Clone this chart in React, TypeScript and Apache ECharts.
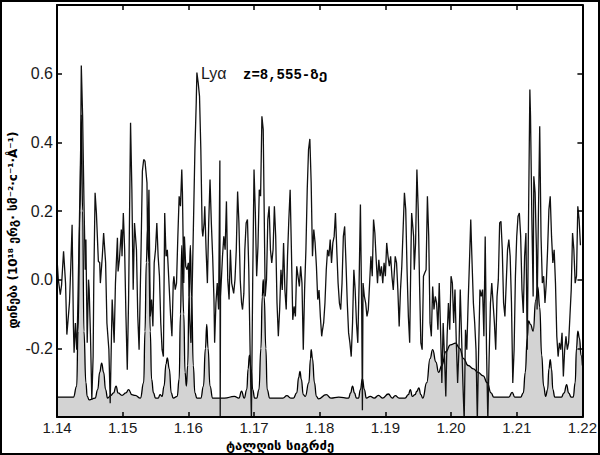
import { useEffect, useRef } from "react";
import * as echarts from "echarts";

// Observed spectrum (wavelength µm, flux)
const obsWave = [
  1.1400,1.1402,1.1405,1.1407,1.1410,1.1413,1.1415,1.1419,1.1421,1.1423,
  1.1425,1.1426,1.1428,1.1430,1.1431,1.1434,1.1436,1.1437,1.1439,1.1441,
  1.1443,1.1444,1.1446,1.1448,1.1449,1.1451,1.1453,1.1455,1.1456,1.1458,
  1.1460,1.1461,1.1463,1.1465,1.1466,1.1469,1.1471,1.1474,1.1476,1.1479,
  1.1481,1.1484,1.1485,1.1487,1.1489,1.1492,1.1493,1.1495,1.1498,1.1499,
  1.1501,1.1503,1.1505,1.1507,1.1509,1.1511,1.1512,1.1514,1.1516,1.1518,
  1.1521,1.1523,1.1525,1.1528,1.1530,1.1532,1.1534,1.1537,1.1538,1.1540,
  1.1542,1.1544,1.1546,1.1548,1.1550,1.1552,1.1554,1.1556,1.1558,1.1560,
  1.1562,1.1564,1.1566,1.1568,1.1570,1.1573,1.1575,1.1577,1.1578,1.1580,
  1.1582,1.1584,1.1586,1.1588,1.1590,1.1591,1.1593,1.1594,1.1596,1.1598,
  1.1600,1.1602,1.1604,1.1606,1.1608,1.1610,1.1612,1.1613,1.1615,1.1617,
  1.1619,1.1621,1.1622,1.1624,1.1625,1.1627,1.1629,1.1631,1.1633,1.1635,
  1.1637,1.1639,1.1640,1.1642,1.1644,1.1646,1.1648,1.16485,1.1649,1.1652,
  1.1654,1.1656,1.1658,1.1660,1.1662,1.1664,1.1666,1.1667,1.1669,1.1671,
  1.1673,1.1675,1.1677,1.1679,1.1681,1.16825,1.16845,1.1686,1.1688,1.1690,
  1.1692,1.1694,1.1696,1.1698,1.1700,1.1702,1.1704,1.1706,1.1708,1.1710,
  1.1712,1.1714,1.17155,1.1717,1.1719,1.1721,1.1723,1.1725,1.1727,1.1729,
  1.1731,1.1733,1.1735,1.1737,1.1739,1.1741,1.1743,1.1745,1.1747,1.1749,
  1.1751,1.1753,1.1755,1.1757,1.1759,1.1761,1.1763,1.1765,1.1767,1.1769,
  1.1771,1.1773,1.1775,1.1777,1.1779,1.1781,1.1783,1.1785,1.1787,1.1789,
  1.1791,1.1793,1.1795,1.1797,1.1799,1.1801,1.1803,1.1804,1.1806,1.1808,
  1.1810,1.1812,1.1814,1.1816,1.1818,1.1820,1.1822,1.1824,1.1826,1.1828,
  1.1830,1.1832,1.1834,1.1836,1.1838,1.1840,1.1842,1.1844,1.1846,1.1848,
  1.1850,1.1852,1.1854,1.1856,1.1858,1.1860,1.1862,1.1864,1.1865,1.1866,
  1.1868,1.1870,1.1872,1.1874,1.1876,1.1878,1.1880,1.1882,1.1884,1.1886,
  1.1888,1.1890,1.1892,1.1894,1.1896,1.1898,1.1900,1.1902,1.1904,1.1906,
  1.1908,1.1910,1.1912,1.1915,1.1917,1.1919,1.1921,1.1923,1.1925,1.1927,
  1.1929,1.1931,1.1933,1.1935,1.1937,1.1939,1.1940,1.1943,1.1944,1.1946,
  1.1948,1.1950,1.1952,1.1954,1.1956,1.1958,1.1960,1.1962,1.1964,1.1966,
  1.1968,1.1970,1.1972,1.1974,1.1976,1.1978,1.1980,1.1982,1.1984,1.1986,
  1.1988,1.1990,1.1992,1.1994,1.1996,1.1998,1.2000,1.2002,1.2004,1.2006,
  1.2008,1.2010,1.2012,1.2014,1.2016,1.2018,1.2020,1.2022,1.2024,1.2026,
  1.2028,1.2030,1.2032,1.2034,1.2036,1.2038,1.2040,1.2042,1.2044,1.2046,
  1.2048,1.2050,1.2052,1.2054,1.2056,1.2058,1.2060,1.2062,1.2064,1.2066,
  1.2068,1.2070,1.2072,1.2074,1.2076,1.2078,1.2080,1.2082,1.2084,1.2086,
  1.2088,1.2090,1.2092,1.2094,1.2096,1.2098,1.2100,1.2102,1.2104,1.2106,
  1.2108,1.2110,1.2112,1.2114,1.2116,1.2118,1.2120,1.2121,1.2123,1.2125,
  1.2126,1.2128,1.2130,1.2131,1.2133,1.2135,1.2137,1.2139,1.2141,1.2143,
  1.2145,1.2147,1.2149,1.2151,1.2153,1.2155,1.2157,1.2159,1.2161,1.2163,
  1.2165,1.2167,1.2169,1.2171,1.2173,1.2175,1.2177,1.2179,1.2181,1.2183,
  1.2185,1.2187,1.2189,1.2191,1.2193,1.2195,1.2197,
];
const obsFlux = [
  0.061,0.0,-0.044,-0.015,0.083,-0.01,-0.16,-0.067,0.039,0.16,
  -0.136,-0.213,-0.126,-0.204,-0.146,0.155,0.379,0.624,0.476,0.233,
  0.029,0.117,-0.184,0.0,-0.029,-0.165,-0.35,-0.224,-0.01,0.253,
  0.194,0.194,0.053,0.05,-0.01,0.068,0.136,0.05,-0.126,-0.204,
  -0.36,-0.058,-0.097,-0.184,-0.01,0.122,0.024,0.058,0.146,0.068,
  0.194,0.087,-0.107,-0.262,-0.058,0.282,0.457,0.262,-0.029,0.165,
  0.087,-0.107,-0.204,0.087,0.316,0.35,0.345,0.282,0.087,0.262,
  -0.107,-0.058,-0.136,0.049,0.087,0.165,0.068,0.01,-0.126,-0.204,
  -0.224,0.194,0.068,0.087,0.01,-0.107,-0.165,-0.01,0.01,-0.029,
  -0.01,0.126,0.243,0.214,0.321,0.253,-0.01,0.126,0.039,0.029,
  0.049,-0.117,-0.184,-0.01,0.185,0.379,0.515,0.603,0.573,0.534,
  0.379,0.146,0.126,0.165,0.214,0.087,-0.01,0.165,0.292,0.165,
  0.068,-0.058,-0.184,-0.068,-0.01,-0.087,0.347,-0.41,-0.05,0.068,
  0.126,0.087,0.228,0.0,-0.058,0.087,-0.01,-0.01,-0.04,0.0,
  0.087,0.257,0.165,0.0,-0.068,-0.087,-0.04,0.087,0.165,0.175,
  0.03,-0.204,-0.41,0.0,0.321,0.194,0.01,0.097,0.262,0.243,
  0.476,0.437,0.194,-0.049,0.0,0.175,0.214,0.087,0.049,0.087,
  0.214,0.126,-0.068,-0.165,-0.087,0.029,-0.03,0.107,-0.03,-0.087,
  0.068,0.175,0.262,0.078,-0.117,-0.078,-0.107,0.039,0.01,-0.02,
  0.039,-0.01,-0.204,-0.03,0.087,0.262,0.379,0.41,0.282,0.068,
  0.146,0.107,0.039,-0.058,-0.03,-0.107,-0.165,-0.15,-0.126,-0.068,
  0.029,0.087,0.068,0.117,0.049,0.107,0.126,0.194,0.087,-0.01,
  -0.068,-0.087,-0.01,0.126,0.155,0.049,-0.068,-0.155,-0.184,-0.224,
  -0.126,0.029,-0.03,-0.126,-0.184,-0.01,0.219,-0.1,-0.38,-0.01,
  -0.049,-0.068,-0.107,-0.087,-0.01,0.068,0.01,0.175,0.136,0.058,
  -0.01,0.058,0.01,0.039,-0.01,0.049,0.01,0.107,0.068,0.039,
  0.068,0.01,-0.03,0.068,0.049,-0.03,-0.136,-0.03,0.039,0.146,
  0.253,0.204,0.029,-0.107,-0.184,0.087,0.194,0.126,0.029,0.107,
  0.321,0.204,-0.01,-0.184,-0.204,0.01,0.02,0.029,0.243,0.126,
  -0.126,-0.165,-0.02,-0.087,-0.049,-0.068,-0.146,-0.01,-0.146,-0.301,
  -0.126,-0.224,-0.34,-0.165,-0.068,-0.146,0.01,-0.01,-0.126,-0.029,
  -0.184,-0.301,-0.204,-0.029,-0.165,-0.301,-0.41,-0.146,-0.204,-0.068,
  0.049,0.175,0.049,-0.068,-0.126,-0.204,-0.41,-0.204,-0.029,-0.049,
  -0.029,-0.165,0.126,-0.204,-0.41,-0.224,-0.068,-0.01,-0.068,-0.126,
  -0.204,-0.049,0.0,0.165,0.17,0.087,-0.068,-0.107,-0.01,0.087,
  0.117,0.068,-0.068,-0.301,-0.204,0.01,0.126,0.185,0.194,0.126,
  -0.029,-0.097,0.068,0.136,-0.204,0.185,0.554,0.476,0.185,-0.049,
  0.301,0.253,0.087,-0.087,0.185,0.447,0.126,-0.01,0.01,-0.068,
  -0.01,0.087,0.204,0.243,0.126,0.049,0.087,-0.01,-0.165,-0.224,
  -0.184,-0.204,-0.155,-0.282,-0.204,-0.165,-0.204,-0.184,-0.107,-0.029,
  0.136,0.087,-0.01,0.01,0.214,0.175,0.1,
];

// Model spectrum (smooth line with grey fill)
const modelWave = [
  1.1400,1.1425,1.1430,1.1432,1.1435,1.1437,1.1439,1.1441,1.1444,1.1446,
  1.1449,1.1458,1.1462,1.1465,1.1468,1.1471,1.1474,1.1477,1.1482,1.1486,
  1.1490,1.1493,1.1499,1.1505,1.1509,1.1514,1.1519,1.1527,1.1532,1.1534,
  1.1536,1.1538,1.1540,1.1542,1.1544,1.1547,1.1550,1.1554,1.1557,1.1560,
  1.1563,1.1566,1.1568,1.1571,1.1574,1.1577,1.1583,1.1586,1.1588,1.1590,
  1.1593,1.1595,1.1597,1.1599,1.1601,1.1603,1.1605,1.16075,1.1610,1.1613,
  1.1619,1.1623,1.1626,1.1628,1.1630,1.1633,1.1637,1.1643,1.1655,1.1670,
  1.1677,1.1681,1.1685,1.1689,1.1691,1.1693,1.16955,1.1698,1.1701,1.1704,
  1.17075,1.17105,1.17125,1.1714,1.17155,1.1718,1.1720,1.1724,1.1744,1.1750,
  1.1756,1.1760,1.1765,1.1768,1.1770,1.1772,1.1775,1.1778,1.17835,1.1786,
  1.1787,1.1789,1.1792,1.1795,1.1798,1.1810,1.1817,1.1829,1.1844,1.1847,
  1.1850,1.1853,1.1856,1.1859,1.1862,1.1865,1.1868,1.1871,1.1877,1.1883,
  1.18895,1.18955,1.19045,1.19105,1.1915,1.1921,1.1930,1.1935,1.1938,1.1941,
  1.1945,1.1948,1.1951,1.1954,1.1957,1.1963,1.1968,1.1972,1.1977,1.1981,
  1.1986,1.1992,1.1999,1.2007,1.2013,1.2019,1.2026,1.2034,1.2041,1.2049,
  1.2055,1.2061,1.2065,1.2088,1.2093,1.2097,1.2106,1.2110,1.2113,1.2116,
  1.2118,1.2121,1.2125,1.2129,1.2132,1.2135,1.2138,1.2141,1.2144,1.2147,
  1.2149,1.2151,1.2153,1.2155,1.2158,1.2168,1.2172,1.2176,1.2179,1.2183,
  1.2186,1.2189,1.2191,1.2193,1.21955,1.2198,1.2200,
];
const modelFlux = [
  -0.342,-0.342,-0.31,-0.15,0.2,0.48,0.2,-0.15,-0.3,-0.34,
  -0.35,-0.345,-0.32,-0.27,-0.243,-0.27,-0.32,-0.345,-0.337,-0.33,
  -0.31,-0.33,-0.337,-0.33,-0.32,-0.335,-0.337,-0.345,-0.3,-0.15,
  0.05,0.15,0.05,-0.15,-0.29,-0.33,-0.345,-0.345,-0.335,-0.34,
  -0.31,-0.245,-0.228,-0.26,-0.33,-0.345,-0.34,-0.29,-0.1,0.1,
  -0.1,-0.27,-0.31,-0.25,-0.05,0.1,-0.05,-0.25,-0.33,-0.345,
  -0.345,-0.31,-0.2,-0.13,-0.2,-0.31,-0.345,-0.345,-0.345,-0.34,
  -0.345,-0.325,-0.345,-0.32,-0.26,-0.22,-0.26,-0.32,-0.345,-0.345,
  -0.32,-0.2,-0.05,0.0,-0.05,-0.2,-0.32,-0.345,-0.345,-0.338,
  -0.345,-0.345,-0.33,-0.285,-0.267,-0.29,-0.335,-0.34,-0.3,-0.23,
  -0.204,-0.23,-0.3,-0.34,-0.347,-0.335,-0.345,-0.342,-0.345,-0.33,
  -0.31,-0.33,-0.345,-0.345,-0.32,-0.288,-0.32,-0.345,-0.34,-0.345,
  -0.337,-0.345,-0.333,-0.345,-0.338,-0.345,-0.345,-0.335,-0.32,-0.34,
  -0.335,-0.325,-0.315,-0.335,-0.345,-0.3,-0.23,-0.204,-0.24,-0.27,
  -0.25,-0.21,-0.19,-0.185,-0.2,-0.23,-0.25,-0.26,-0.27,-0.28,
  -0.3,-0.33,-0.342,-0.342,-0.328,-0.342,-0.342,-0.33,-0.27,-0.17,
  -0.12,-0.13,-0.15,-0.06,-0.02,-0.08,-0.22,-0.31,-0.34,-0.32,
  -0.26,-0.233,-0.26,-0.32,-0.342,-0.342,-0.33,-0.306,-0.33,-0.342,
  -0.342,-0.3,-0.2,-0.15,-0.17,-0.22,-0.25,
];

const xTicks = { min: 1.14, max: 1.22, step: 0.01 };
const yTicks = { min: -0.4, max: 0.8, step: 0.2 };

const yTitle = "დინება (10¹⁸ ერგ· სმ⁻²·c⁻¹·Å⁻¹)";
const xTitle = "ტალღის სიგრძე";
const lineLabel = "Lyα";
const zLabel = "z=8,555-ზე";

export default function App() {
  const ref = useRef<HTMLDivElement>(null);
  useEffect(() => {
    document.body.style.margin = "0";
    const chart = echarts.init(ref.current as HTMLDivElement, null, { renderer: "svg" });
    const obsData = obsWave.map((w, i) => [w, obsFlux[i]]);
    const modelData = modelWave.map((w, i) => [w, modelFlux[i]]);
    const labelFont = "'Liberation Sans', Arial, sans-serif";
    const xAxisBase = {
      type: "value",
      min: xTicks.min,
      max: xTicks.max,
      interval: xTicks.step,
      z: 10,
      splitLine: { show: false },
      axisLine: { show: true, onZero: false, lineStyle: { color: "#000", width: 2 } },
      axisTick: { show: true, inside: true, length: 5, lineStyle: { color: "#000", width: 1.5 } },
    };
    const yAxisBase = {
      type: "value",
      min: yTicks.min,
      max: yTicks.max,
      interval: yTicks.step,
      z: 10,
      splitLine: { show: false },
      axisLine: { show: true, onZero: false, lineStyle: { color: "#000", width: 2 } },
      axisTick: { show: true, inside: true, length: 5, lineStyle: { color: "#000", width: 1.5 } },
    };
    chart.setOption({
      animation: false,
      backgroundColor: "#ffffff",
      grid: { left: 57, right: 11, top: 5, bottom: 38, show: false },
      xAxis: [
        {
          ...xAxisBase,
          position: "bottom",
          axisLabel: {
            show: true,
            margin: 3,
            fontSize: 15,
            lineHeight: 15,
            color: "#1a1a1a",
            fontFamily: labelFont,
            formatter: (v: number) => v.toFixed(2),
          },
        },
        { ...xAxisBase, position: "top", axisLabel: { show: false } },
      ],
      yAxis: [
        {
          ...yAxisBase,
          position: "left",
          axisLabel: {
            show: true,
            margin: 4,
            fontSize: 16,
            color: "#1a1a1a",
            fontFamily: labelFont,
            formatter: (v: number) => (v < -0.39 || v > 0.79 ? "" : v.toFixed(1)),
          },
        },
        { ...yAxisBase, position: "right", axisLabel: { show: false } },
      ],
      series: [
        {
          type: "line",
          data: modelData,
          symbol: "none",
          smooth: 0.5,
          smoothMonotone: "x",
          z: 2,
          lineStyle: { color: "#000", width: 1.3 },
          areaStyle: { color: "#d3d3d3", opacity: 1, origin: "start" },
        },
        {
          type: "line",
          data: obsData,
          symbol: "none",
          z: 3,
          lineStyle: { color: "#111", width: 1.3 },
        },
      ],
      graphic: [
        {
          type: "rect",
          shape: { x: 1, y: 1, width: 598, height: 453 },
          style: { fill: "none", stroke: "#000", lineWidth: 2 },
          z: 100,
        },
        {
          type: "text",
          x: 201,
          y: 73,
          z: 100,
          style: {
            text: lineLabel,
            fontSize: 16,
            fontFamily: labelFont,
            fill: "#1a1a1a",
            align: "left",
            verticalAlign: "middle",
          },
        },
        {
          type: "text",
          x: 243,
          y: 75,
          z: 100,
          style: {
            text: zLabel,
            fontSize: 14,
            fontWeight: "bold",
            fontFamily: "'Liberation Mono', 'DejaVu Sans Mono', monospace",
            fill: "#000",
            align: "left",
            verticalAlign: "middle",
          },
        },
        {
          type: "text",
          x: 280,
          y: 445,
          z: 100,
          style: {
            text: xTitle,
            fontSize: 13,
            fontWeight: "bold",
            fontFamily: "'DejaVu Sans', sans-serif",
            fill: "#000",
            align: "center",
            verticalAlign: "middle",
          },
        },
        {
          type: "text",
          x: 13,
          y: 230,
          rotation: Math.PI / 2,
          z: 100,
          style: {
            text: yTitle,
            fontSize: 12,
            fontWeight: "bold",
            fontFamily: "'DejaVu Sans', sans-serif",
            fill: "#000",
            align: "center",
            verticalAlign: "middle",
          },
        },
      ],
    });
    return () => chart.dispose();
  }, []);
  return (
    <div
      ref={ref}
      style={{ position: "absolute", left: 0, top: 0, width: 600, height: 455, background: "#fff" }}
    />
  );
}
